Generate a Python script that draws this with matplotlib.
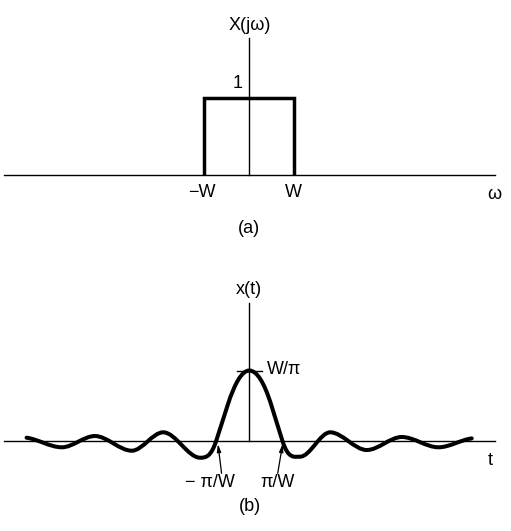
import numpy as np
import matplotlib
matplotlib.use("Agg")
import matplotlib.pyplot as plt
from matplotlib.path import Path
from matplotlib.patches import PathPatch

plt.rcParams['font.family'] = ['Liberation Sans', 'DejaVu Sans']

# ---- data ----
# (a) rectangular spectrum X(jw): corner points in units of W
rect_w = [-1, -1, 1, 1]
rect_x = [0, 1, 1, 0]
# (b) x(t) knots (t in units of pi/W, x in units of W/pi)
knot_t = [-6.75, -5.68, -4.68, -3.56, -2.61, -1.49, -1.0, -0.66, 0.0,
          0.67, 1.0, 1.54, 2.45, 3.56, 4.62, 5.73, 6.74]
knot_x = [0.04, -0.097, 0.064, -0.146, 0.117, -0.246, 0.0, 0.5, 1.0,
          0.5, 0.0, -0.231, 0.117, -0.136, 0.05, -0.097, 0.03]

fig = plt.figure(figsize=(5.11, 5.31), dpi=100)
axa = fig.add_axes([0, 271/531, 1, 260/531])
axb = fig.add_axes([0, 0, 1, 271/531])
for ax in (axa, axb):
    ax.axis('off')

# ---------- (a) ----------
axa.set_xlim(-5.515, 5.79)
axa.set_ylim(-1.108, 2.282)
axa.plot([-5.43, 5.43], [0, 0], color='black', lw=1.0)
axa.plot([0, 0], [0, 1.786], color='black', lw=1.0)
axa.plot(rect_w, rect_x, color='black', lw=2.5, solid_joinstyle='miter',
         solid_capstyle='butt')
fs = 13
axa.text(0, 1.948, 'X(jω)', ha='center', va='center', fontsize=fs)
axa.text(-0.256, 1.195, '1', ha='center', va='center', fontsize=fs)
axa.text(-1.056, -0.234, '−W', ha='center', va='center', fontsize=fs)
axa.text(0.967, -0.234, 'W', ha='center', va='center', fontsize=fs)
axa.text(5.41, -0.26, 'ω', ha='center', va='center', fontsize=fs)
axa.text(0, -0.70, '(a)', ha='center', va='center', fontsize=fs)

# ---------- (b) ----------
axb.set_xlim(-7.555, 7.93)
axb.set_ylim(-1.293, 2.579)
axb.plot([-7.43, 7.45], [0, 0], color='black', lw=1.0)
axb.plot([0, 0], [0, 1.96], color='black', lw=1.0)
axb.plot([-0.38, 0.375], [1.0, 1.0], color='black', lw=1.0)

# smooth curve through knots (cubic Hermite -> Bezier path)
t = np.array(knot_t)
xv = np.array(knot_x)
n = len(t)
m = np.zeros(n)
for i in range(n):
    if i == 0:
        m[i] = (xv[1] - xv[0]) / (t[1] - t[0]) * 0.5
    elif i == n - 1:
        m[i] = (xv[-1] - xv[-2]) / (t[-1] - t[-2]) * 0.5
    else:
        dl = (xv[i] - xv[i-1]) / (t[i] - t[i-1])
        dr = (xv[i+1] - xv[i]) / (t[i+1] - t[i])
        if dl * dr <= 0:
            m[i] = 0.0
        else:
            m[i] = dl if abs(dl) > abs(dr) else dr
verts = [(t[0], xv[0])]
codes = [Path.MOVETO]
for i in range(n - 1):
    d = (t[i+1] - t[i]) / 3.0
    verts += [(t[i] + d, xv[i] + m[i] * d),
              (t[i+1] - d, xv[i+1] - m[i+1] * d),
              (t[i+1], xv[i+1])]
    codes += [Path.CURVE4] * 3
axb.add_patch(PathPatch(Path(verts, codes), fill=False, lw=2.9,
                        edgecolor='black', capstyle='round'))

arrow = dict(arrowstyle='-|>,head_length=0.45,head_width=0.12',
             color='black', lw=0.9, shrinkA=0, shrinkB=0)
axb.annotate('', xy=(-0.95, -0.05), xytext=(-0.84, -0.47), arrowprops=arrow)
axb.annotate('', xy=(1.01, -0.05), xytext=(0.86, -0.47), arrowprops=arrow)

axb.text(0, 2.16, 'x(t)', ha='center', va='center', fontsize=fs)
axb.text(0.54, 1.02, 'W/π', ha='left', va='center', fontsize=fs)
axb.text(-1.19, -0.607, '− π/W', ha='center', va='center', fontsize=fs)
axb.text(0.87, -0.607, 'π/W', ha='center', va='center', fontsize=fs)
axb.text(7.29, -0.29, 't', ha='center', va='center', fontsize=fs)
axb.text(0.02, -0.95, '(b)', ha='center', va='center', fontsize=fs)

fig.savefig('out.png', dpi=100, facecolor='white')
